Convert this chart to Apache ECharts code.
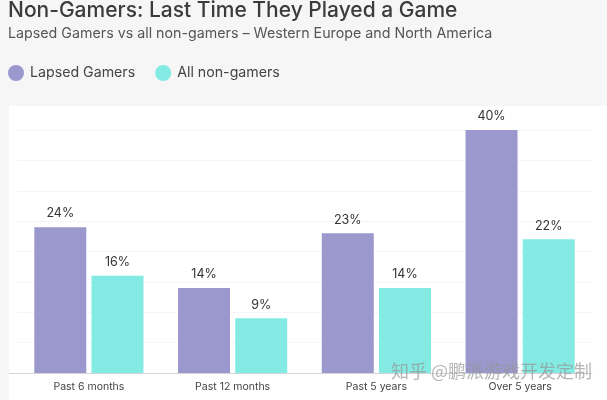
<!DOCTYPE html>
<html>
<head>
<meta charset="utf-8">
<style>
  html, body { margin: 0; padding: 0; background: #f6f6f6; }
  #main { width: 607px; height: 400px; }
</style>
<script src="https://cdn.jsdelivr.net/npm/echarts@6/dist/echarts.min.js"></script>
</head>
<body>
<div id="main"></div>
<script>
const categories = ["Past 6 months", "Past 12 months", "Past 5 years", "Over 5 years"];
const lapsedGamers = [24, 14, 23, 40];
const allNonGamers = [16, 9, 14, 22];
const fontName = "Inter";

const myChart = echarts.init(document.getElementById("main"));

const barLabel = {
  show: true,
  position: "top",
  distance: 7,
  formatter: "{c}%",
  color: "#333",
  fontSize: 12.5,
  fontFamily: fontName
};

const option = {
  animation: false,
  backgroundColor: "#f6f6f6",
  title: {
    text: "Non-Gamers: Last Time They Played a Game",
    subtext: "Lapsed Gamers vs all non-gamers – Western Europe and North America",
    left: 8,
    top: 0,
    padding: 0,
    itemGap: 6,
    textStyle: { color: "#3b3b3b", fontSize: 21, fontWeight: 500, fontFamily: fontName },
    subtextStyle: { color: "#555", fontSize: 14.25, fontFamily: fontName }
  },
  legend: {
    left: 8,
    top: 65,
    padding: 0,
    icon: "circle",
    itemWidth: 16,
    itemHeight: 16,
    itemGap: 20,
    textStyle: { color: "#444", fontSize: 14.2, padding: [0, 0, 0, 1], fontFamily: fontName }
  },
  graphic: [
    { type: "rect", z: -1, shape: { x: 9, y: 106, width: 598, height: 294 }, style: { fill: "#fff" } },
    { type: "line", z: 1, shape: { x1: 9, y1: 373.5, x2: 17, y2: 373.5 }, style: { stroke: "#d4d4d4" } },
    {
      type: "text", z: 100, left: 391, top: 362,
      style: { text: "知乎 @鹏派游戏开发定制", fill: "rgba(150,150,150,0.7)", fontSize: 18, fontFamily: "Noto Sans CJK SC" }
    }
  ],
  grid: { left: 17, right: 15, top: 130, bottom: 27 },
  xAxis: {
    type: "category",
    data: categories,
    axisTick: { show: false },
    axisLine: { lineStyle: { color: "#d4d4d4" } },
    axisLabel: { color: "#444", fontSize: 10.5, margin: 8, fontFamily: fontName }
  },
  yAxis: {
    type: "value",
    min: 0,
    max: 40,
    interval: 5,
    axisLabel: { show: false },
    axisLine: { show: false },
    axisTick: { show: false },
    splitLine: { lineStyle: { color: "#f5f5f5" } }
  },
  series: [
    { name: "Lapsed Gamers", type: "bar", data: lapsedGamers, barWidth: 52, barGap: "10%", itemStyle: { color: "#9b98cd" }, label: barLabel },
    { name: "All non-gamers", type: "bar", data: allNonGamers, barWidth: 52, barGap: "10%", itemStyle: { color: "#83ebe3" }, label: barLabel }
  ]
};

myChart.setOption(option);
</script>
</body>
</html>
